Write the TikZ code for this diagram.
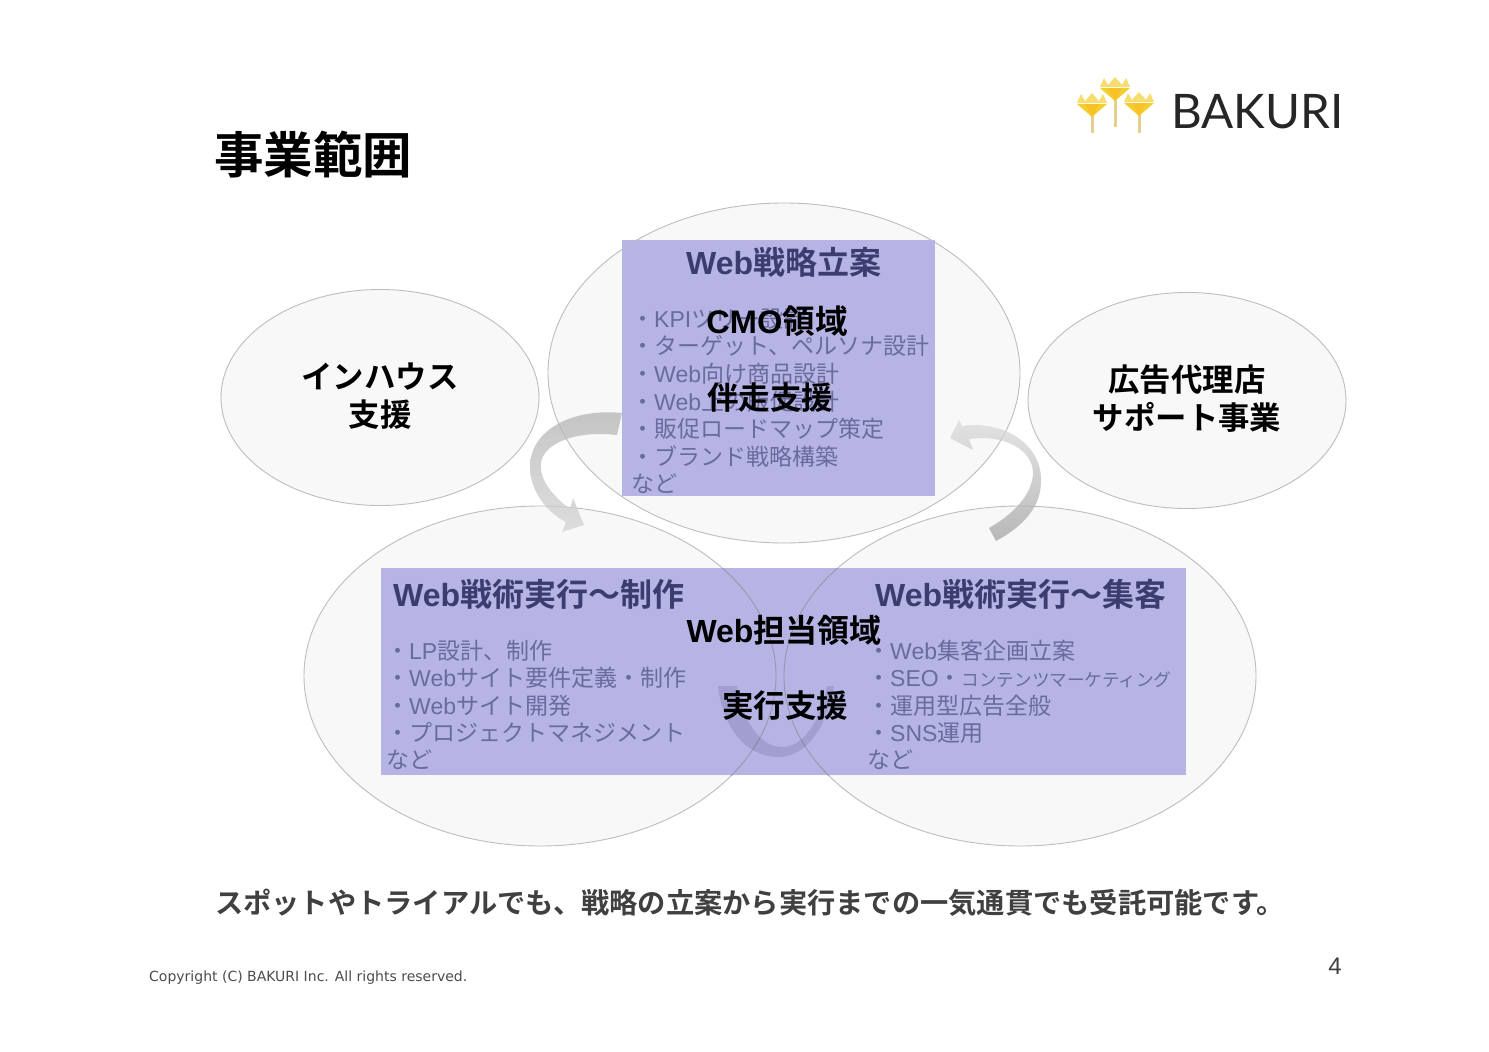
\documentclass[tikz,border=0pt]{standalone}
\usepackage{fontspec}
\setmainfont{Noto Sans CJK JP}[BoldFont={Noto Sans CJK JP Bold}]
\newfontfamily\latinsans{Liberation Sans}
\newcommand{\lat}[1]{{\latinsans #1}}
\newfontfamily\logofont{Lato}
\usetikzlibrary{shapes.geometric}
\definecolor{ringline}{HTML}{BDBDBD}
\definecolor{ringfill}{HTML}{F8F8F8}
\definecolor{panel}{HTML}{B5B4E4}
\definecolor{heading}{HTML}{3D3C6E}
\definecolor{bodytxt}{HTML}{6A6A9C}
\definecolor{tagline}{HTML}{404040}
\definecolor{gold}{HTML}{F4CE2E}
\definecolor{stem}{HTML}{E4D08A}
\tikzset{
  x=1pt,y=-1pt,
  ring/.style={ellipse,draw=ringline,line width=0.9pt,fill=ringfill},
  panelbox/.style={fill=panel},
  bigtitle/.style={inner sep=0,font=\bfseries\fontsize{32}{38}\selectfont,text=heading,anchor=base west},
  bodyline/.style={inner sep=0,anchor=base west,font=\fontsize{23}{27}\selectfont,text=bodytxt},
  sidelabel/.style={inner sep=0,align=center,font=\bfseries\fontsize{31.4}{38}\selectfont,text=black},
  role/.style={inner sep=0,font=\bfseries\fontsize{31.5}{36}\selectfont,text=black},
}
% x centre, top of head, foot of stem
\newcommand{\flowerhead}[3]{%
  \fill[stem] (#1-1.5,#2+15) rectangle (#1+1.5,#3);
  \fill[gold!70!white] (#1-15,#2+10) -- (#1-11,#2+1) -- (#1-7,#2+8) -- (#1,#2) -- (#1+7,#2+8) -- (#1+11,#2+1) -- (#1+15,#2+10) -- cycle;
  \fill[gold] (#1-15,#2+11) -- (#1+15,#2+11) -- (#1,#2+24) -- cycle;
  \fill[gold!85!orange] (#1-7,#2+11) -- (#1+7,#2+11) -- (#1,#2+24) -- cycle;
}
\begin{document}
\begin{tikzpicture}
\useasboundingbox (0,0) rectangle (1489,1052);
\fill[white] (0,0) rectangle (1489,1052);

\node[inner sep=0,anchor=base west,font=\bfseries\fontsize{49.5}{55}\selectfont] (pagetitle) at (214,173) {事業範囲};

% logo
\flowerhead{1092}{93}{133}
\flowerhead{1115}{77}{127}
\flowerhead{1139}{92}{133}
\node[inner sep=0,anchor=base west,font=\logofont\fontsize{47.6}{50}\selectfont,text=black!85] (logotext) at (1171,128) {BAKURI};

% rings
\node[ring,minimum width=318pt,minimum height=216pt] (inhouse) at (380,397.5) {};
\node[ring,minimum width=318pt,minimum height=216pt] (agency) at (1187,400.5) {};
\node[ring,minimum width=472pt,minimum height=340pt] (strategy) at (784,373) {};
\node[ring,minimum width=472pt,minimum height=340pt] (create) at (540,676) {};
\node[ring,minimum width=472pt,minimum height=340pt] (attract) at (1020,676) {};

% swooshes
\shade[top color=black!30,bottom color=black!17,opacity=0.75] (622,413) .. controls (572,408) and (530,430) .. (530,467) .. controls (530,490) and (546,512) .. (566,522) -- (562,532) -- (584,525) -- (573,498) -- (570,509) .. controls (553,496) and (539,480) .. (541,463) .. controls (543,445) and (572,430) .. (617,435) -- cycle;
\shade[top color=black!14,bottom color=black!36,opacity=0.75] (950,438) -- (959,420) -- (962,426) .. controls (1005,420) and (1043,445) .. (1041,483) .. controls (1040,510) and (1020,528) .. (996,541) -- (989,528) .. controls (1012,515) and (1033,495) .. (1033,472) .. controls (1032,450) and (1005,434) .. (969,439) -- (973,450) -- cycle;

% panels
\fill[panelbox] (621.5,239.5) rectangle (935,496);
\fill[panelbox] (380.5,568) rectangle (1185.5,775);

% ring edges seen through the panels
\begin{scope}
\clip (621.5,239.5) rectangle (935,496);
\draw[ringline!85!panel,line width=0.8pt] (784,373) ellipse [x radius=236,y radius=170];
\end{scope}
\begin{scope}
\clip (380.5,568) rectangle (1185.5,775);
\draw[ringline!60!panel!80!black,line width=0.8pt] (540,676) ellipse [x radius=236,y radius=170];
\draw[ringline!60!panel!80!black,line width=0.8pt] (1020,676) ellipse [x radius=236,y radius=170];
\end{scope}
\fill[heading,fill opacity=0.17] (718,686) .. controls (722,725) and (745,757) .. (778,757) .. controls (805,757) and (826,730) .. (834,686) -- (827,686) .. controls (820,722) and (803,747) .. (782,747) .. controls (760,747) and (742,720) .. (737,686) -- cycle;

% strategy panel text
\node[bigtitle] (t1) at (686,274) {\lat{Web}戦略立案};
\node[bodyline] (a1) at (631,327) {・\lat{KPI}ツリー設計};
\node[bodyline] (a2) at (631,354) {・ターゲット、ペルソナ設計};
\node[bodyline] (a3) at (631,382) {・\lat{Web}向け商品設計};
\node[bodyline] (a4) at (631,410) {・\lat{Web}上の販促設計};
\node[bodyline] (a5) at (631,437) {・販促ロードマップ策定};
\node[bodyline] (a6) at (631,465) {・ブランド戦略構築};
\node[bodyline] (a7) at (631,492) {など};

% creation panel text
\node[bigtitle] (t2) at (393,606) {\lat{Web}戦術実行〜制作};
\node[bodyline] (b1) at (386,659) {・\lat{LP}設計、制作};
\node[bodyline] (b2) at (386,686) {・\lat{Web}サイト要件定義・制作};
\node[bodyline] (b3) at (386,714) {・\lat{Web}サイト開発};
\node[bodyline] (b4) at (386,741) {・プロジェクトマネジメント};
\node[bodyline] (b5) at (386,768) {など};

% acquisition panel text
\node[bigtitle] (t3) at (875,606) {\lat{Web}戦術実行〜集客};
\node[bodyline] (c1) at (867,659) {・\lat{Web}集客企画立案};
\node[bodyline] (c2) at (867,686) {・\lat{SEO}・{\fontsize{17.6}{20}\selectfont コンテンツマーケティング}};
\node[bodyline] (c3) at (867,714) {・運用型広告全般};
\node[bodyline] (c4) at (867,741) {・\lat{SNS}運用};
\node[bodyline] (c5) at (867,768) {など};

% black labels
\node[sidelabel] (inhouselabel) at (380,396) {インハウス\\支援};
\node[sidelabel] (agencylabel) at (1187,399) {広告代理店\\サポート事業};
\node[role,font=\bfseries\fontsize{32.6}{36}\selectfont] (cmo) at (777,321) {\lat{CMO}領域};
\node[role] (banso) at (770,398) {伴走支援};
\node[role,font=\bfseries\fontsize{32}{36}\selectfont] (webtanto) at (784,630) {\lat{Web}担当領域};
\node[role] (jikko) at (785,706) {実行支援};

\node[inner sep=0,font=\bfseries\fontsize{28.25}{32}\selectfont,text=tagline] (tag) at (750,902.5) {スポットやトライアルでも、戦略の立案から実行までの一気通貫でも受託可能です。};
\node[inner sep=0,anchor=base west,text=black!70] (copy) at (149,981) {\fontspec{DejaVu Sans}\fontsize{14}{18}\selectfont Copyright (C) BAKURI Inc. All rights reserved.};
\node[inner sep=0,anchor=base east,font=\latinsans\fontsize{24}{28}\selectfont,text=black!75] (pageno) at (1342,974) {4};
\end{tikzpicture}
\end{document}
